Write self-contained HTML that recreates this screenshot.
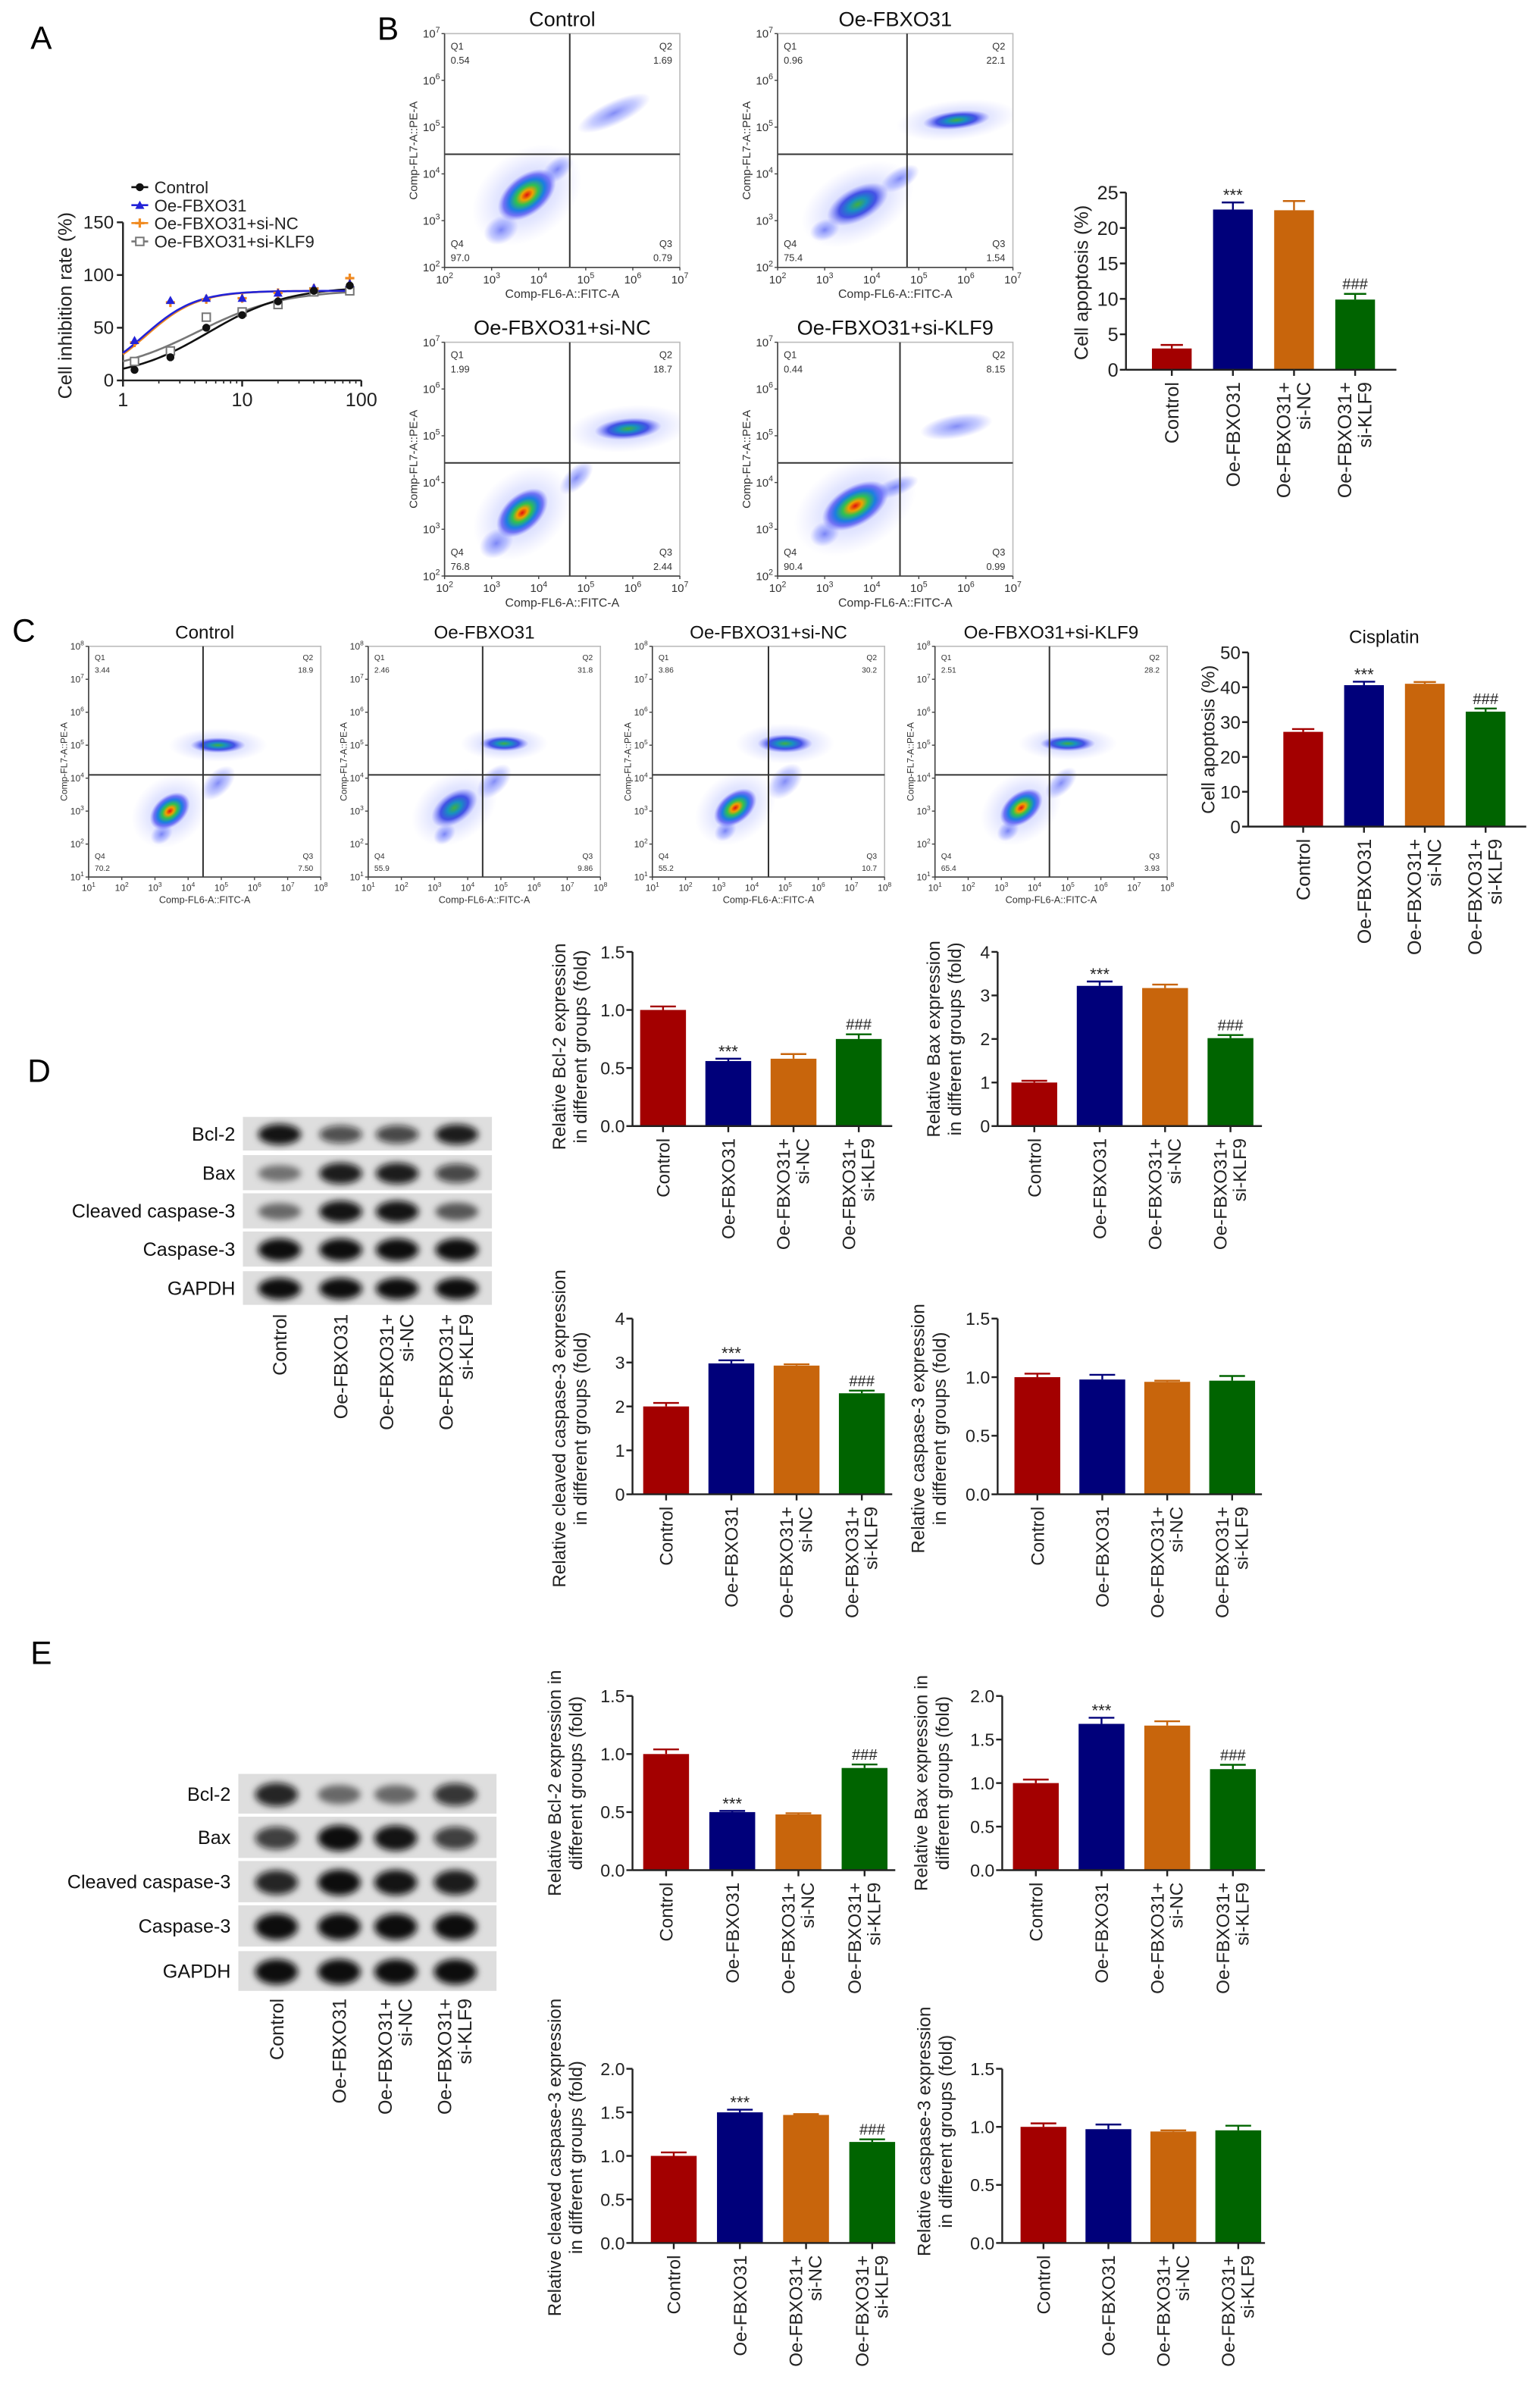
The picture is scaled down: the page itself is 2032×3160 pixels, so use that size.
<!DOCTYPE html>
<html><head><meta charset="utf-8">
<style>
html,body{margin:0;padding:0;background:#fff;}
svg{display:block;font-family:"Liberation Sans",Arial,sans-serif;}
</style></head>
<body>
<svg id="fig" width="2032" height="3160" viewBox="0 0 1008 1567.5" preserveAspectRatio="none" xmlns="http://www.w3.org/2000/svg">
<defs>
<filter id="blur1" x="-50%" y="-50%" width="200%" height="200%"><feGaussianBlur stdDeviation="2.2"/></filter>
<radialGradient id="hot"><stop offset="0" stop-color="#e01010"/><stop offset="0.2" stop-color="#f0a000"/><stop offset="0.38" stop-color="#30c050"/><stop offset="0.6" stop-color="#1a7fe0"/><stop offset="0.8" stop-color="#3030f0" stop-opacity="0.6"/><stop offset="1" stop-color="#6060ff" stop-opacity="0"/></radialGradient>
<radialGradient id="mid"><stop offset="0" stop-color="#40b040"/><stop offset="0.3" stop-color="#1890c0"/><stop offset="0.6" stop-color="#2030e0" stop-opacity="0.8"/><stop offset="1" stop-color="#6060ff" stop-opacity="0"/></radialGradient>
<radialGradient id="sparse"><stop offset="0" stop-color="#3040f0" stop-opacity="0.6"/><stop offset="0.6" stop-color="#6070ff" stop-opacity="0.35"/><stop offset="1" stop-color="#8080ff" stop-opacity="0"/></radialGradient>
<radialGradient id="halo"><stop offset="0" stop-color="#4050f0" stop-opacity="0.35"/><stop offset="0.6" stop-color="#7080ff" stop-opacity="0.18"/><stop offset="1" stop-color="#9090ff" stop-opacity="0"/></radialGradient>
</defs>
</svg>
<script>
// ---------- Panel A data ----------
const aDoses = [1.25, 2.5, 5, 10, 20, 40, 80];
const aControl = [10, 22, 50, 62, 75, 85, 90];
const aOe = [38, 76, 78, 78, 83, 88, 92];
const aSiNC = [36, 74, 77, 78, 83, 87, 97];
const aSiKLF9 = [18, 28, 60, 65, 72, 84, 85];
const aFitBottom = [2, 0, 0, 6];
const aFitTop = [89, 85, 85, 86];
const aFitEC50 = [5.2, 1.5, 1.56, 4.2];
const aFitHill = [1.3, 2.0, 2.0, 1.2];
const aYTicks = [0, 50, 100, 150];
const aXTicks = [1, 10, 100];

// ---------- Bar data ----------
const groups = ["Control", "Oe-FBXO31", "Oe-FBXO31+|si-NC", "Oe-FBXO31+|si-KLF9"];
const bApoptosis = [3.0, 22.6, 22.5, 9.9];
const bApoptosisErr = [0.5, 1.0, 1.3, 0.8];
const cApoptosis = [27.2, 40.6, 41.0, 33.0];
const cApoptosisErr = [0.8, 1.0, 0.5, 0.9];
const dBcl2 = [1.0, 0.56, 0.58, 0.75];
const dBcl2Err = [0.03, 0.02, 0.04, 0.04];
const dBax = [1.0, 3.22, 3.17, 2.02];
const dBaxErr = [0.04, 0.1, 0.08, 0.07];
const dCleaved = [2.0, 2.98, 2.93, 2.3];
const dCleavedErr = [0.08, 0.07, 0.03, 0.06];
const dCasp = [1.0, 0.98, 0.96, 0.97];
const dCaspErr = [0.03, 0.04, 0.01, 0.04];
const eBcl2 = [1.0, 0.5, 0.48, 0.88];
const eBcl2Err = [0.04, 0.01, 0.01, 0.03];
const eBax = [1.0, 1.68, 1.66, 1.16];
const eBaxErr = [0.04, 0.07, 0.05, 0.05];
const eCleaved = [1.0, 1.5, 1.47, 1.16];
const eCleavedErr = [0.04, 0.03, 0.01, 0.03];
const eCasp = [1.0, 0.98, 0.96, 0.97];
const eCaspErr = [0.03, 0.04, 0.01, 0.04];
const barColors = ["#a30000", "#00007a", "#c8650c", "#006400"];

// ---------- Flow quadrant percentages ----------
const flowB = [
  {title:"Control", q:["0.54","1.69","0.79","97.0"]},
  {title:"Oe-FBXO31", q:["0.96","22.1","1.54","75.4"]},
  {title:"Oe-FBXO31+si-NC", q:["1.99","18.7","2.44","76.8"]},
  {title:"Oe-FBXO31+si-KLF9", q:["0.44","8.15","0.99","90.4"]}
];
const flowC = [
  {title:"Control", q:["3.44","18.9","7.50","70.2"]},
  {title:"Oe-FBXO31", q:["2.46","31.8","9.86","55.9"]},
  {title:"Oe-FBXO31+si-NC", q:["3.86","30.2","10.7","55.2"]},
  {title:"Oe-FBXO31+si-KLF9", q:["2.51","28.2","3.93","65.4"]}
];

const svg = document.getElementById('fig');
const NS = "http://www.w3.org/2000/svg";
function mk(tag, attrs, parent){
  const e = document.createElementNS(NS, tag);
  for (const k in attrs) e.setAttribute(k, attrs[k]);
  (parent||svg).appendChild(e);
  return e;
}
function txt(s, attrs, parent){
  const t = mk('text', attrs, parent);
  t.textContent = s;
  return t;
}
function sup(base, exp, attrs, parent){
  const t = mk('text', attrs, parent);
  t.appendChild(document.createTextNode(base));
  const ts = document.createElementNS(NS,'tspan');
  ts.setAttribute('dy', -attrs['font-size']*0.45);
  ts.setAttribute('font-size', attrs['font-size']*0.7);
  ts.textContent = exp;
  t.appendChild(ts);
  return t;
}

// panel letters
[["A",20,32],["B",247,26],["C",8,420],["D",18,708],["E",20,1089]].forEach(p=>{
  const t = txt(p[0], {x:p[1], y:p[2], 'font-size':21, fill:'#000'});
  
  
});

// ---------- Panel A ----------
(function(){
  const g = mk('g', {});
  
  
  const X0 = 80.5, Y0 = 249, Ytop = 145.5, xDec = 78;
  const xs = v => X0 + Math.log10(v)*xDec;
  const ys = v => Y0 - v/150*(Y0-Ytop);
  mk('line',{x1:X0,y1:Ytop,x2:X0,y2:Y0,stroke:'#222','stroke-width':1.2},g);
  mk('line',{x1:X0,y1:Y0,x2:xs(100),y2:Y0,stroke:'#222','stroke-width':1.2},g);
  aYTicks.forEach(v=>{
    mk('line',{x1:X0-4,y1:ys(v),x2:X0,y2:ys(v),stroke:'#222','stroke-width':1.2},g);
    txt(String(v),{x:X0-6,y:ys(v)+4,'font-size':12,'text-anchor':'end',fill:'#222'},g);
  });
  aXTicks.forEach(v=>{
    mk('line',{x1:xs(v),y1:Y0,x2:xs(v),y2:Y0+4,stroke:'#222','stroke-width':1.2},g);
    txt(String(v),{x:xs(v),y:Y0+17,'font-size':12.5,'text-anchor':'middle',fill:'#222'},g);
  });
  for (let d=1; d<=2; d++) for (let k=2;k<=9;k++){
    const v = Math.pow(10,d-1)*k;
    mk('line',{x1:xs(v),y1:Y0,x2:xs(v),y2:Y0+2,stroke:'#222','stroke-width':0.8},g);
  }
  const yl = txt("Cell inhibition rate (%)",{x:47,y:200,'font-size':12.5,'text-anchor':'middle',fill:'#222',transform:'rotate(-90 47 200)'},g);
  
  
  const series = [aControl,aOe,aSiNC,aSiKLF9];
  const cols = ['#111','#2323d8','#f08a20','#777'];
  const names = ['Control','Oe-FBXO31','Oe-FBXO31+si-NC','Oe-FBXO31+si-KLF9'];
  const order = [3,0,2,1];
  order.forEach(i=>{
    let d='';
    for (let k=0;k<=80;k++){
      const lx = k/80*Math.log10(80);
      const x = Math.pow(10,lx);
      const y = aFitBottom[i] + (aFitTop[i]-aFitBottom[i])/(1+Math.pow(aFitEC50[i]/x,aFitHill[i]));
      d += (k?'L':'M')+xs(x).toFixed(2)+','+ys(y).toFixed(2);
    }
    const p = mk('path',{d:d,fill:'none',stroke:cols[i],'stroke-width':1.3},g);
    
    
  });
  function marker(i,x,y,parent){
    let m;
    if (i===0) m = mk('circle',{cx:x,cy:y,r:2.6,fill:'#111'},parent);
    else if (i===1) m = mk('polygon',{points:`${x},${y-3} ${x-3},${y+2.4} ${x+3},${y+2.4}`,fill:'#2323d8'},parent);
    else if (i===2) m = mk('path',{d:`M${x-3},${y}L${x+3},${y}M${x},${y-3}L${x},${y+3}`,stroke:'#f08a20','stroke-width':1.6},parent);
    else m = mk('rect',{x:x-2.6,y:y-2.6,width:5.2,height:5.2,fill:'#fff',stroke:'#777','stroke-width':1},parent);
    return m;
  }
  [3,2,1,0].forEach(i=>{
    series[i].forEach((v,j)=>{
      const m = marker(i, xs(aDoses[j]), ys(v), g);
      
      
    });
  });
  const ly=[122.5,134.3,146,158];
  names.forEach((n,i)=>{
    const lg = mk('g',{},g);
    
    
    mk('line',{x1:86,y1:ly[i],x2:97,y2:ly[i],stroke:cols[i],'stroke-width':1.3},lg);
    marker(i,91.5,ly[i],lg);
    txt(n,{x:101,y:ly[i]+4,'font-size':11,fill:'#222'},lg);
  });
})();

// ---------- Flow plots ----------
function flowPlot(cfg){
  const g = mk('g',{});
  
  
  const {x,y,w,h,dmin,dmax,qx,qy,fs} = cfg;
  const xs = d => x + (d-dmin)/(dmax-dmin)*w;
  const ys = d => y + h - (d-dmin)/(dmax-dmin)*h;
  mk('rect',{x:x,y:y,width:w,height:h,fill:'#fff',stroke:'#bbb','stroke-width':0.8},g);
  const clip = 'clip'+cfg.id;
  const cp = mk('clipPath',{id:clip},g);
  mk('rect',{x:x,y:y,width:w,height:h},cp);
  const cg = mk('g',{'clip-path':`url(#${clip})`},g);
  cfg.clouds.forEach(c=>{
    if (c[5]==='sparse') return;
    const cx = xs(c[0]), cy = ys(c[1]);
    mk('ellipse',{cx:cx,cy:cy,rx:c[2]*1.8,ry:c[3]*2.2,fill:'url(#halo)',transform:`rotate(${c[4]} ${cx} ${cy})`},cg);
  });
  cfg.clouds.forEach(c=>{
    const cx = xs(c[0]), cy = ys(c[1]);
    const e = mk('ellipse',{cx:cx,cy:cy,rx:c[2],ry:c[3],fill:`url(#${c[5]})`,transform:`rotate(${c[4]} ${cx} ${cy})`},cg);
    
    
  });
  mk('line',{x1:xs(qx),y1:y,x2:xs(qx),y2:y+h,stroke:'#333','stroke-width':1},g);
  mk('line',{x1:x,y1:ys(qy),x2:x+w,y2:ys(qy),stroke:'#333','stroke-width':1},g);
  mk('line',{x1:x,y1:y,x2:x,y2:y+h,stroke:'#444','stroke-width':0.8},g);
  mk('line',{x1:x,y1:y+h,x2:x+w,y2:y+h,stroke:'#444','stroke-width':0.8},g);
  for (let d=dmin; d<=dmax; d++){
    sup('10',String(d),{x:xs(d),y:y+h+fs+3,'font-size':fs,'text-anchor':'middle',fill:'#333'},g);
    sup('10',String(d),{x:x-3,y:ys(d)+fs*0.35,'font-size':fs,'text-anchor':'end',fill:'#333'},g);
    mk('line',{x1:xs(d),y1:y+h,x2:xs(d),y2:y+h+2,stroke:'#444','stroke-width':0.7},g);
    mk('line',{x1:x-2,y1:ys(d),x2:x,y2:ys(d),stroke:'#444','stroke-width':0.7},g);
  }
  const qf = fs*0.85;
  txt('Q1',{x:x+4,y:y+qf+4,'font-size':qf,fill:'#333'},g);
  txt(cfg.q[0],{x:x+4,y:y+2*qf+7,'font-size':qf,fill:'#333'},g);
  txt('Q2',{x:x+w-5,y:y+qf+4,'font-size':qf,fill:'#333','text-anchor':'end'},g);
  txt(cfg.q[1],{x:x+w-5,y:y+2*qf+7,'font-size':qf,fill:'#333','text-anchor':'end'},g);
  txt('Q4',{x:x+4,y:y+h-qf-7,'font-size':qf,fill:'#333'},g);
  txt(cfg.q[3],{x:x+4,y:y+h-4,'font-size':qf,fill:'#333'},g);
  txt('Q3',{x:x+w-5,y:y+h-qf-7,'font-size':qf,fill:'#333','text-anchor':'end'},g);
  txt(cfg.q[2],{x:x+w-5,y:y+h-4,'font-size':qf,fill:'#333','text-anchor':'end'},g);
  txt('Comp-FL6-A::FITC-A',{x:x+w/2,y:y+h+2*fs+5,'font-size':fs*1.05,'text-anchor':'middle',fill:'#333'},g);
  const lx = x-cfg.ylOff, lyy = y+h/2;
  txt('Comp-FL7-A::PE-A',{x:lx,y:lyy,'font-size':fs*1.0,'text-anchor':'middle',fill:'#333',transform:`rotate(-90 ${lx} ${lyy})`},g);
  const t = txt(cfg.title,{x:x+w/2,y:y-5,'font-size':cfg.tfs,'text-anchor':'middle',fill:'#111'},g);
  
  
}
const bPos = [[291,22],[509,22],[291,224],[509,224]];
const bClouds = [
  [[3.75,3.55,22,13,-38,'hot'],[4.4,4.1,12,7,-40,'sparse'],[5.6,5.3,26,8,-25,'sparse'],[3.2,2.8,12,9,-30,'sparse']],
  [[3.7,3.35,22,11,-28,'mid'],[4.6,3.9,14,7,-30,'sparse'],[5.8,5.15,22,6,-6,'mid'],[3.0,2.8,10,7,-20,'sparse']],
  [[3.65,3.35,20,12,-42,'hot'],[4.8,4.1,14,7,-45,'sparse'],[5.9,5.15,22,7,-5,'mid'],[3.1,2.7,12,9,-35,'sparse']],
  [[3.65,3.5,24,13,-30,'hot'],[4.5,3.9,16,6,-20,'sparse'],[5.8,5.2,24,8,-10,'sparse'],[3.0,2.9,10,8,-25,'sparse']]
];
const bQx = [4.66,4.75,4.66,4.6];
flowB.forEach((f,i)=>flowPlot({id:'b'+i,x:bPos[i][0],y:bPos[i][1],w:154,h:153,dmin:2,dmax:7,qx:bQx[i],qy:4.42,fs:7.5,tfs:13.5,ylOff:18,q:f.q,title:f.title,clouds:bClouds[i]}));
const cX = [58,241,427,612];
const cClouds = [
  [[3.45,3.0,15,10,-40,'hot'],[4.9,5.0,18,5,0,'mid'],[4.9,3.85,14,8,-45,'sparse'],[3.2,2.3,8,6,-40,'sparse']],
  [[3.6,3.1,17,10,-35,'mid'],[5.1,5.05,16,5,0,'mid'],[4.8,3.9,14,8,-45,'sparse'],[3.3,2.3,8,6,-40,'sparse']],
  [[3.5,3.1,16,10,-38,'hot'],[5.0,5.05,18,6,0,'mid'],[5.0,3.9,14,9,-45,'sparse'],[3.2,2.4,8,6,-40,'sparse']],
  [[3.6,3.1,16,10,-38,'hot'],[5.0,5.05,18,5,0,'mid'],[4.8,3.85,13,7,-45,'sparse'],[3.2,2.4,8,6,-40,'sparse']]
];
const cQx = [4.45,4.45,4.5,4.45];
flowC.forEach((f,i)=>flowPlot({id:'c'+i,x:cX[i],y:423,w:152,h:151,dmin:1,dmax:8,qx:cQx[i],qy:4.1,fs:6,tfs:12,ylOff:14,q:f.q,title:f.title,clouds:cClouds[i]}));

// ---------- Bar charts ----------
function barChart(cfg){
  const g = mk('g',{});
  
  
  const {ax,y0,ytop,max,ticks,c0,sp,bw,xend,vals,errs,fs,lfs} = cfg;
  const ys = v => y0 - v/max*(y0-ytop);
  const xc = i => c0 + i*sp;
  vals.forEach((v,i)=>{
    const r = mk('rect',{x:xc(i)-bw/2,y:ys(v),width:bw,height:y0-ys(v),fill:barColors[i]},g);
    
    
    const et = ys(v+errs[i]);
    mk('line',{x1:xc(i),y1:ys(v),x2:xc(i),y2:et,stroke:barColors[i],'stroke-width':1.2},g);
    mk('line',{x1:xc(i)-bw*0.28,y1:et,x2:xc(i)+bw*0.28,y2:et,stroke:barColors[i],'stroke-width':1.2},g);
    if (cfg.ann && cfg.ann[i]){
      txt(cfg.ann[i],{x:xc(i),y:et-(cfg.ann[i]==='***'?1:3),'font-size':cfg.ann[i]==='***'?11:10,'text-anchor':'middle',fill:'#222'},g);
    }
  });
  mk('line',{x1:ax,y1:ytop,x2:ax,y2:y0,stroke:'#222','stroke-width':1.2},g);
  mk('line',{x1:ax,y1:y0,x2:xend,y2:y0,stroke:'#222','stroke-width':1.2},g);
  ticks.forEach(t=>{
    mk('line',{x1:ax-4,y1:ys(t),x2:ax,y2:ys(t),stroke:'#222','stroke-width':1.2},g);
    txt(cfg.fmt(t),{x:ax-5,y:ys(t)+fs*0.36,'font-size':fs,'text-anchor':'end',fill:'#222'},g);
  });
  groups.forEach((lab,i)=>{
    mk('line',{x1:xc(i),y1:y0,x2:xc(i),y2:y0+4,stroke:'#222','stroke-width':1.2},g);
    const parts = lab.split('|');
    const top = y0+8;
    if (parts.length===1){
      const xx = xc(i)+lfs*0.36;
      txt(parts[0],{x:xx,y:top,'font-size':lfs,'text-anchor':'end',fill:'#222',transform:`rotate(-90 ${xx} ${top})`},g);
    } else {
      const x1 = xc(i)-lfs*0.2, x2 = xc(i)+lfs*0.85;
      txt(parts[0],{x:x1,y:top,'font-size':lfs,'text-anchor':'end',fill:'#222',transform:`rotate(-90 ${x1} ${top})`},g);
      txt(parts[1],{x:x2,y:top,'font-size':lfs,'text-anchor':'end',fill:'#222',transform:`rotate(-90 ${x2} ${top})`},g);
    }
  });
  cfg.yl.forEach((s,k)=>{
    const xx = cfg.ylx[k], yy = cfg.yly;
    const t = txt(s,{x:xx,y:yy,'font-size':cfg.ylfs,'text-anchor':'middle',fill:'#222',transform:`rotate(-90 ${xx} ${yy})`},g);
    
    
  });
}
const f0 = t=>String(t), f1 = t=>t.toFixed(1);
const ann = [null,'***',null,'###'];
barChart({name:'b-apoptosis-bar-chart',ax:737,y0:242,ytop:126,max:25,ticks:[0,5,10,15,20,25],fmt:f0,c0:767,sp:40,bw:26,xend:914,vals:bApoptosis,errs:bApoptosisErr,fs:12.5,lfs:12.5,ann:ann,yl:['Cell apoptosis (%)'],ylx:[712],yly:185,ylfs:12.5});
barChart({name:'c-apoptosis-bar-chart',ax:817,y0:541,ytop:427,max:50,ticks:[0,10,20,30,40,50],fmt:f0,c0:853,sp:39.8,bw:26,xend:999,vals:cApoptosis,errs:cApoptosisErr,fs:12,lfs:12.5,ann:ann,yl:['Cell apoptosis (%)'],ylx:[795],yly:484,ylfs:12});
const cis = txt('Cisplatin',{x:906,y:421,'font-size':12,'text-anchor':'middle',fill:'#111'});


barChart({name:'d-bcl2-bar-chart',ax:414,y0:737,ytop:623,max:1.5,ticks:[0,0.5,1,1.5],fmt:f1,c0:434,sp:42.7,bw:30,xend:584,vals:dBcl2,errs:dBcl2Err,fs:11.5,lfs:12,ann:ann,yl:['Relative Bcl-2 expression','in different groups (fold)'],ylx:[370,384],yly:685,ylfs:12});
barChart({name:'d-bax-bar-chart',ax:653,y0:737,ytop:623,max:4,ticks:[0,1,2,3,4],fmt:f0,c0:677,sp:42.8,bw:30,xend:826,vals:dBax,errs:dBaxErr,fs:11.5,lfs:12,ann:ann,yl:['Relative Bax expression','in different groups (fold)'],ylx:[615,629],yly:680,ylfs:12});
barChart({name:'d-cleaved-caspase3-bar-chart',ax:414,y0:978,ytop:863,max:4,ticks:[0,1,2,3,4],fmt:f0,c0:436,sp:42.7,bw:30,xend:584,vals:dCleaved,errs:dCleavedErr,fs:11.5,lfs:12,ann:ann,yl:['Relative cleaved caspase-3 expression','in different groups (fold)'],ylx:[370,384],yly:935,ylfs:12});
barChart({name:'d-caspase3-bar-chart',ax:653,y0:978,ytop:863,max:1.5,ticks:[0,0.5,1,1.5],fmt:f1,c0:679,sp:42.5,bw:30,xend:826,vals:dCasp,errs:dCaspErr,fs:11.5,lfs:12,ann:null,yl:['Relative caspase-3 expression','in different groups (fold)'],ylx:[605,619],yly:935,ylfs:12});
barChart({name:'e-bcl2-bar-chart',ax:414,y0:1224,ytop:1110,max:1.5,ticks:[0,0.5,1,1.5],fmt:f1,c0:436,sp:43.3,bw:30,xend:586,vals:eBcl2,errs:eBcl2Err,fs:11.5,lfs:12,ann:ann,yl:['Relative Bcl-2 expression in','different groups (fold)'],ylx:[367,381],yly:1167,ylfs:12});
barChart({name:'e-bax-bar-chart',ax:656,y0:1224,ytop:1110,max:2,ticks:[0,0.5,1,1.5,2],fmt:f1,c0:678,sp:43,bw:30,xend:828,vals:eBax,errs:eBaxErr,fs:11.5,lfs:12,ann:ann,yl:['Relative Bax expression in','different groups (fold)'],ylx:[607,621],yly:1167,ylfs:12});
barChart({name:'e-cleaved-caspase3-bar-chart',ax:414,y0:1468,ytop:1354,max:2,ticks:[0,0.5,1,1.5,2],fmt:f1,c0:441,sp:43.3,bw:30,xend:586,vals:eCleaved,errs:eCleavedErr,fs:11.5,lfs:12,ann:ann,yl:['Relative cleaved caspase-3 expression','in different groups (fold)'],ylx:[367,381],yly:1412,ylfs:12});
barChart({name:'e-caspase3-bar-chart',ax:656,y0:1468,ytop:1354,max:1.5,ticks:[0,0.5,1,1.5],fmt:f1,c0:683,sp:42.5,bw:30,xend:828,vals:eCasp,errs:eCaspErr,fs:11.5,lfs:12,ann:null,yl:['Relative caspase-3 expression','in different groups (fold)'],ylx:[609,623],yly:1395,ylfs:12});

// ---------- Western blots ----------
const blotRows = ["Bcl-2","Bax","Cleaved caspase-3","Caspase-3","GAPDH"];
const dBands = [[0.9,0.55,0.6,0.85],[0.3,0.85,0.85,0.6],[0.35,0.9,0.9,0.45],[1,1,1,1],[1,1,1,1]];
const eBands = [[0.8,0.35,0.35,0.7],[0.65,0.95,0.9,0.65],[0.8,0.95,0.9,0.85],[1,1,1,1],[1,1,1,1]];
function blot(cfg){
  const g = mk('g',{});
  
  
  cfg.rows.forEach((r,ri)=>{
    const h = r[1]-r[0];
    mk('rect',{x:cfg.x0,y:r[0],width:cfg.x1-cfg.x0,height:h,fill:'#dedede'},g);
    cfg.lanes.forEach((lx,li)=>{
      const v = cfg.bands[ri][li];
      const b = mk('ellipse',{cx:lx,cy:r[0]+h*0.52,rx:14,ry:h*0.2+v*h*0.12,fill:'#0a0a0a','fill-opacity':Math.min(1,0.25+v*0.8),filter:'url(#blur1)'},g);
      
      
    });
    txt(blotRows[ri],{x:cfg.x0-5,y:r[0]+h/2+4.5,'font-size':12.5,'text-anchor':'end',fill:'#111'},g);
  });
  groups.forEach((lab,i)=>{
    const parts = lab.split('|');
    const top = cfg.ly, c = cfg.lanes[i];
    if (parts.length===1){
      const xx=c+4.5;
      txt(parts[0],{x:xx,y:top,'font-size':12.5,'text-anchor':'end',fill:'#222',transform:`rotate(-90 ${xx} ${top})`},g);
    } else {
      const x1=c-2.5, x2=c+10.5;
      txt(parts[0],{x:x1,y:top,'font-size':12.5,'text-anchor':'end',fill:'#222',transform:`rotate(-90 ${x1} ${top})`},g);
      txt(parts[1],{x:x2,y:top,'font-size':12.5,'text-anchor':'end',fill:'#222',transform:`rotate(-90 ${x2} ${top})`},g);
    }
  });
}
blot({name:'d-western-blot',x0:159,x1:322,rows:[[731,753],[756,779],[781,804],[806,829],[832,854]],lanes:[183,223,260,299],bands:dBands,ly:860});
blot({name:'e-western-blot',x0:156,x1:325,rows:[[1161,1187],[1189,1216],[1218,1245],[1247,1274],[1277,1303]],lanes:[181,222,259,298],bands:eBands,ly:1308});
</script>
</body></html>
